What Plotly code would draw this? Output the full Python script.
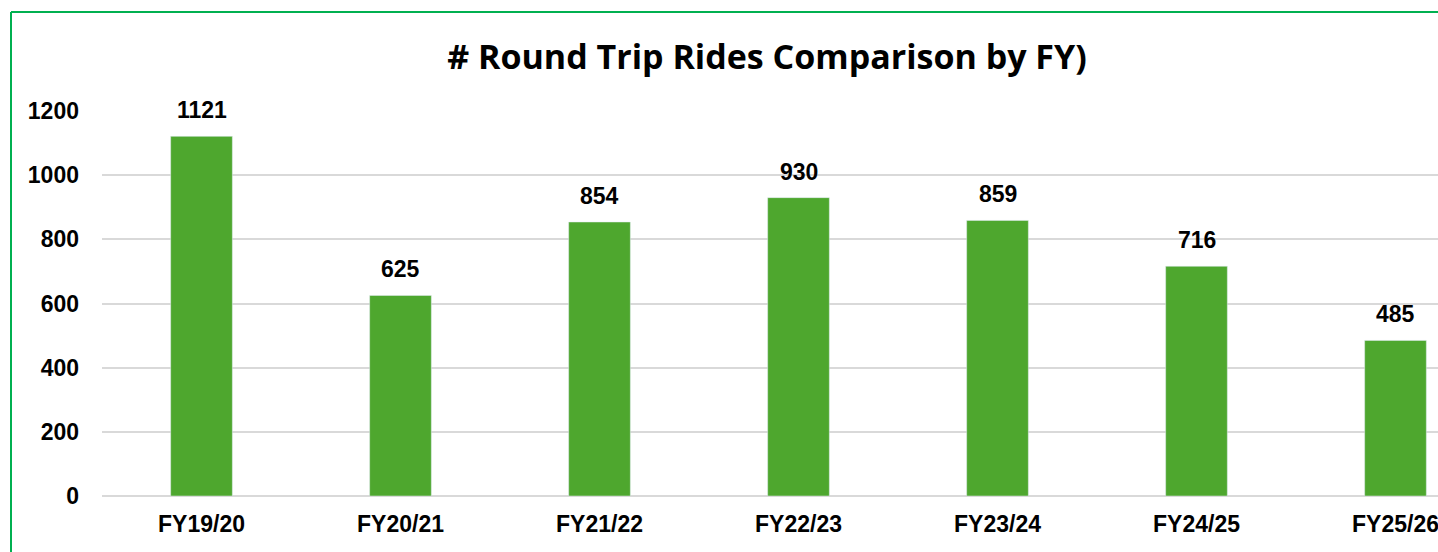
import plotly.graph_objects as go

categories = ["FY19/20", "FY20/21", "FY21/22", "FY22/23", "FY23/24", "FY24/25", "FY25/26"]
values = [1121, 625, 854, 930, 859, 716, 485]
y_ticks = [0, 200, 400, 600, 800, 1000, 1200]

BAR = "#4EA72E"
BORDER = "#00B050"
FONT = "Liberation Sans, Arial, sans-serif"
TFONT = "Open Sans, Liberation Sans, sans-serif"

W, H = 1438, 552
L, R, T, B = 102, 0, 111, 56
pw, ph = W - L - R, H - T - B

def px_x(px):
    return (px - L) / pw

def px_y(py):
    return (H - B - py) / ph

fig = go.Figure()
fig.add_trace(go.Bar(
    x=list(range(len(categories))), y=values, marker_color=BAR, width=0.31,
    hoverinfo="skip",
))

for i, v in enumerate(values):
    fig.add_annotation(x=i, y=v, text=str(v), showarrow=False, yanchor="bottom",
                       yshift=11, font=dict(family=FONT, size=23, color="black", weight="bold"))

fig.add_shape(type="line", xref="paper", yref="paper",
              x0=px_x(11), x1=px_x(11), y0=px_y(12), y1=px_y(600),
              line=dict(color=BORDER, width=2))
fig.add_shape(type="line", xref="paper", yref="paper",
              x0=px_x(11), x1=px_x(1500), y0=px_y(12), y1=px_y(12),
              line=dict(color=BORDER, width=2))

fig.update_layout(
    width=W, height=H,
    margin=dict(l=L, r=R, t=T, b=B),
    plot_bgcolor="white", paper_bgcolor="white",
    showlegend=False,
    title=dict(text="# Round Trip Rides Comparison by FY)", x=px_x(767), xref="paper",
               xanchor="center", y=1 - 57 / H, yref="container", yanchor="middle",
               font=dict(family=TFONT, size=34, color="black", weight="bold")),
    xaxis=dict(range=[-0.5, (W - L) / 199.0 - 0.5], tickmode="array",
               tickvals=list(range(len(categories))), ticktext=categories,
               showgrid=False, zeroline=False, showline=False, ticks="",
               ticklabelstandoff=12, ticklabeloverflow="allow",
               tickfont=dict(family=FONT, size=23, color="black", weight="bold")),
    yaxis=dict(range=[0, 1200], tickmode="array", tickvals=y_ticks,
               showgrid=True, gridcolor="#D9D9D9", gridwidth=1.5,
               zeroline=True, zerolinecolor="#D9D9D9", zerolinewidth=1.5,
               showline=False, ticks="", ticklabelstandoff=22,
               tickfont=dict(family=FONT, size=23, color="black", weight="bold")),
)

fig.write_html("out.html", config={"displayModeBar": False},
               post_script="document.body.style.margin='0';document.body.style.overflow='hidden';")
